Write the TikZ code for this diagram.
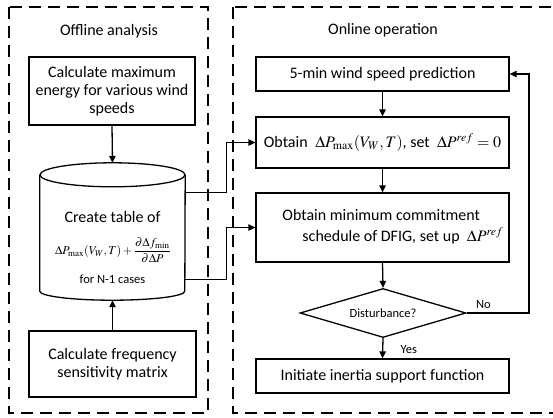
\documentclass[tikz,border=0pt]{standalone}
\usepackage{mathptmx}
\usepackage[no-math]{fontspec}
\setmainfont{Carlito}
\usetikzlibrary{arrows.meta,shapes.geometric,calc}
\tikzset{
  box/.style={draw, line width=1.3pt, minimum width=#1, inner sep=0pt, align=center,
    font=\fontsize{16}{18}\selectfont},
  frame/.style={draw, line width=1.8pt, dash pattern=on 12pt off 7pt},
  arr/.style={line width=1.3pt, -{Triangle[length=7pt,width=6.5pt]}},
  title/.style={font=\fontsize{16}{18}\selectfont},
  small/.style={font=\fontsize{12.5}{14}\selectfont},
}
\begin{document}
\begin{tikzpicture}[x=1pt,y=-1pt]
\useasboundingbox (0,0) rectangle (553,417);
\clip (0,0) rectangle (553,417);
% frames
\draw[frame] (9,7) rectangle (208,413);
\draw[frame] (233,7) rectangle (575,413);
\node[title] (off) at (109,31) {Offline analysis};
\node[title] (on) at (383,30) {Online operation};
% left side
\node[box=166pt, minimum height=68pt] (calc) at (112,91)
  {Calculate maximum\\energy for various wind\\speeds};
\node[box=167pt, minimum height=66pt] (freq) at (112.5,364)
  {Calculate frequency\\sensitivity matrix};
% cylinder
\node[minimum width=145pt, minimum height=137pt, inner sep=0pt] (tab) at (112.5,231.5) {};
\draw[line width=1.3pt] ([yshift=-12pt]tab.north west) -- ([yshift=9pt]tab.south west)
  arc[start angle=180, end angle=360, x radius=72.5pt, y radius=9pt]
  -- ([yshift=-12pt]tab.north east);
\draw[line width=1.3pt] ([yshift=-12pt]tab.north) ellipse [x radius=72.5pt, y radius=12pt];
\node[title] (ct) at (112.5,217) {Create table of};
\node[font=\fontsize{12}{14}\selectfont, inner sep=1pt] (fm) at (113,250)
  {$\displaystyle\Delta P_{\mathrm{max}}(V_W,T)+\frac{\partial\Delta f_{\mathrm{min}}}{\partial\Delta P}$};
\node[small] (nc) at (112.5,279) {for N-1 cases};
% right side
\node[box=253pt, minimum height=34pt] (A) at (382.5,74) {5-min wind speed prediction};
\node[box=253pt, minimum height=51pt] (B) at (382.5,142.5)
  {Obtain\hspace{4pt} $\Delta P_{\mathrm{max}}(V_W,T)$, set \ $\Delta P^{ref}=0$};
\node[box=253pt, minimum height=69pt] (C) at (382.5,227.5)
  {\hspace*{21pt}\begin{tabular}{@{}l@{}}Obtain minimum commitment\\[2pt]\hspace*{20pt}schedule of DFIG, set up \ $\Delta P^{ref}$\end{tabular}};
\node[diamond, draw, line width=1.3pt, aspect=3.4, minimum width=166pt, minimum height=49pt,
  inner sep=0pt, small] (dia) at (383,313) {Disturbance?};
\node[box=253pt, minimum height=34pt] (D) at (382.5,376) {Initiate inertia support function};
% connectors
\draw[arr] (calc.south) -- (tab.north);
\draw[arr] (freq.north) -- (tab.south);
\draw[arr] ([yshift=-30pt]tab.north east) -- ++(41,0) |- (B.west);
\draw[arr] ([yshift=21pt]tab.south east) -- ++(41,0) |- (C.west);
\draw[arr] (A.south) -- (B.north);
\draw[arr] (B.south) -- (C.north);
\draw[arr] (C.south) -- (dia.north);
\draw[arr] (dia.south) -- node[right, small, xshift=14pt, yshift=-1pt] {Yes} (D.north);
\coordinate (loop) at (529,313);
\draw[arr] (dia.east) -- node[above, small, pos=0.27] {No} (loop) |- (A.east);
\end{tikzpicture}
\end{document}
